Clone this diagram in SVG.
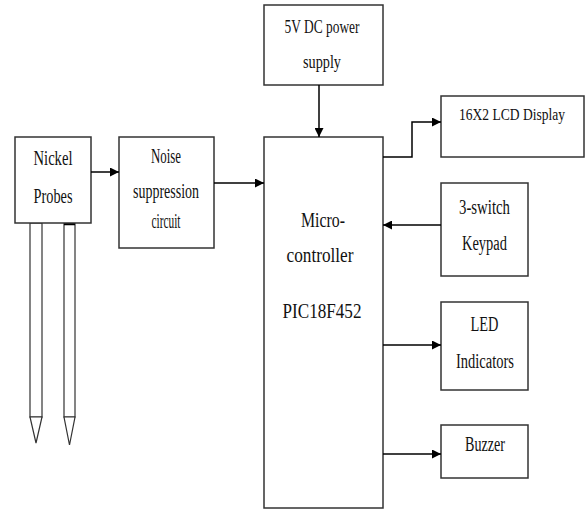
<svg xmlns="http://www.w3.org/2000/svg" width="586" height="512" viewBox="0 0 586 512">
<style>
.box{fill:#fff;stroke:#333;stroke-width:1.5}
.probe{fill:#fff;stroke:#333;stroke-width:1.2}
.t{font-family:'Liberation Serif','DejaVu Serif',serif;font-size:20px;fill:#111;text-anchor:middle}
.c{fill:none;stroke:#000;stroke-width:1.5}
</style>
<defs>
<marker id="ah" viewBox="0 0 10 10" refX="10" refY="5" markerWidth="9" markerHeight="9" markerUnits="userSpaceOnUse" orient="auto">
<path d="M0,0 L10,5 L0,10 z" fill="#000"/>
</marker>
</defs>
<rect width="586" height="512" fill="#fff"/>
<g id="probes">
<rect class="probe" x="30" y="223" width="12" height="194"/>
<path class="probe" d="M30,417 L42,417 L36,443 z"/>
<rect class="probe" x="64" y="223" width="11" height="194"/>
<line x1="64" y1="224" x2="75" y2="224" stroke="#000" stroke-width="2.5"/>
<path class="probe" d="M64,417 L75,417 L69.5,445 z"/>
</g>
<g id="nickel">
<rect class="box" x="15" y="137" width="76" height="86"/>
<text class="t" x="53" y="165" textLength="39" lengthAdjust="spacingAndGlyphs">Nickel</text>
<text class="t" x="53" y="203" textLength="39" lengthAdjust="spacingAndGlyphs">Probes</text>
</g>
<g id="noise">
<rect class="box" x="119" y="137" width="95" height="111"/>
<text class="t" x="166" y="163" textLength="30" lengthAdjust="spacingAndGlyphs">Noise</text>
<text class="t" x="166" y="198" textLength="66" lengthAdjust="spacingAndGlyphs">suppression</text>
<text class="t" x="166" y="228" textLength="29" lengthAdjust="spacingAndGlyphs">circuit</text>
</g>
<g id="power">
<rect class="box" x="264" y="5" width="119" height="80"/>
<text class="t" x="322" y="33" textLength="75" lengthAdjust="spacingAndGlyphs" style="font-size:19px">5V DC power</text>
<text class="t" x="322" y="68" textLength="38" lengthAdjust="spacingAndGlyphs" style="font-size:19px">supply</text>
</g>
<g id="micro">
<rect class="box" x="264" y="137" width="119" height="371"/>
<text class="t" x="323" y="227" textLength="44" lengthAdjust="spacingAndGlyphs" style="font-size:21px">Micro-</text>
<text class="t" x="320" y="262" textLength="67" lengthAdjust="spacingAndGlyphs" style="font-size:21px">controller</text>
<text class="t" x="322" y="318" textLength="79" lengthAdjust="spacingAndGlyphs" style="font-size:22px">PIC18F452</text>
</g>
<g id="lcd">
<rect class="box" x="441" y="96" width="143" height="61"/>
<text class="t" x="512" y="120" textLength="106" lengthAdjust="spacingAndGlyphs" style="font-size:17px">16X2 LCD Display</text>
</g>
<g id="keypad">
<rect class="box" x="441" y="183" width="87" height="93"/>
<text class="t" x="484.5" y="214" textLength="51" lengthAdjust="spacingAndGlyphs">3-switch</text>
<text class="t" x="484.5" y="250" textLength="45" lengthAdjust="spacingAndGlyphs">Keypad</text>
</g>
<g id="led">
<rect class="box" x="441" y="302" width="87" height="88"/>
<text class="t" x="484.5" y="331" textLength="28" lengthAdjust="spacingAndGlyphs">LED</text>
<text class="t" x="485" y="368" textLength="58" lengthAdjust="spacingAndGlyphs">Indicators</text>
</g>
<g id="buzzer">
<rect class="box" x="441" y="425" width="87" height="53"/>
<text class="t" x="485" y="451" textLength="40" lengthAdjust="spacingAndGlyphs">Buzzer</text>
</g>
<g id="connectors">
<line class="c" x1="91" y1="172" x2="119" y2="172" marker-end="url(#ah)"/>
<line class="c" x1="214" y1="183" x2="264" y2="183" marker-end="url(#ah)"/>
<line class="c" x1="319" y1="85" x2="319" y2="137" marker-end="url(#ah)"/>
<polyline class="c" points="383,157 412,157 412,122 441,122" marker-end="url(#ah)"/>
<line class="c" x1="441" y1="225" x2="383" y2="225" marker-end="url(#ah)"/>
<line class="c" x1="383" y1="345" x2="441" y2="345" marker-end="url(#ah)"/>
<line class="c" x1="383" y1="454" x2="441" y2="454" marker-end="url(#ah)"/>
</g>
</svg>
